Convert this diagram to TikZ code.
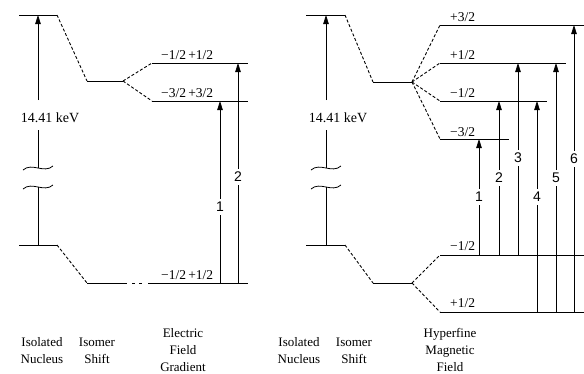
\documentclass[tikz,border=0pt]{standalone}
\usepackage{fontspec}
\setmainfont{Liberation Serif}
\newfontfamily\numfont{Liberation Sans}
\usetikzlibrary{arrows.meta}
\begin{document}
\begin{tikzpicture}[x=1pt,y=-1pt,
 elev/.style={line width=1pt},
 split/.style={line width=0.9pt, dash pattern=on 3pt off 2pt},
 vline/.style={line width=0.8pt},
 trans/.style={line width=0.8pt, -{Triangle[length=9pt,width=5.5pt]}},
 num/.style={fill=white, inner xsep=1pt, inner ysep=3pt, font=\numfont\fontsize{14}{14}\selectfont},
 lvl/.style={font=\fontsize{13.5}{13.5}\selectfont, anchor=base west, inner sep=0pt},
 kev/.style={fill=white, inner xsep=0pt, inner ysep=6pt, font=\fontsize{14}{14}\selectfont},
 captxt/.style={font=\fontsize{13}{17}\selectfont, align=center}]
\useasboundingbox (0,0) rectangle (584,373);

% ---------------- Left panel ----------------
\coordinate (a1) at (19,15);  \coordinate (a2) at (57,15);
\coordinate (b1) at (87,81);  \coordinate (b2) at (123,81);
\coordinate (c1) at (152,63); \coordinate (c2) at (248,63);
\coordinate (d1) at (152,101);\coordinate (d2) at (248,101);
\coordinate (e1) at (19,245); \coordinate (e2) at (57,245);
\coordinate (f1) at (87,283); \coordinate (f2) at (127,283);
\coordinate (f3) at (148,283);\coordinate (f4) at (248,283);

\draw[elev] (a1) -- (a2);
\draw[split] (a2) -- (b1);
\draw[elev] (b1) -- (b2);
\draw[split] (b2) -- (c1);
\draw[split] (b2) -- (d1);
\draw[elev] (c1) -- (c2);
\draw[elev] (d1) -- (d2);
\draw[elev] (e1) -- (e2);
\draw[split] (e2) -- (f1);
\draw[elev] (f1) -- (f2);
\draw[elev] (132,283) -- (134.5,283);
\draw[elev] (139,283) -- (141.5,283);
\draw[elev] (f3) -- (f4);

% isolated nucleus transition
\draw[vline] (38,245) -- (38,187);
\draw[vline] (23,189) .. controls (32,181) and (44,193) .. (53,185);
\draw[vline] (23,170) .. controls (32,162) and (44,174) .. (53,166);
\draw[vline] (38,168) -- (38,130);
\draw[trans] (38,100) -- (a2 -| 38,0);
\node[kev] (kL) at (50,118) {14.41 keV};

\draw[trans] (f4 -| 220,0) -- (d2 -| 220,0);
\node[num] (n1L) at (220,207) {1};
\draw[trans] (f4 -| 238,0) -- (c2 -| 238,0);
\node[num] (n2L) at (238,177) {2};

\node[lvl] (l1) at (161,59) {−1/2\,+1/2};
\node[lvl] (l2) at (161,97) {−3/2\,+3/2};
\node[lvl] (l3) at (161,279) {−1/2\,+1/2};

% ---------------- Right panel ----------------
\coordinate (A1) at (306,15);  \coordinate (A2) at (345,15);
\coordinate (B1) at (373,82);  \coordinate (B2) at (412,82);
\coordinate (P3) at (440,25);  \coordinate (Q3) at (584,25);
\coordinate (P1) at (440,63);  \coordinate (Q1) at (566,63);
\coordinate (M1) at (440,101); \coordinate (N1) at (547,101);
\coordinate (M3) at (440,139); \coordinate (N3) at (509,139);
\coordinate (E1) at (306,245); \coordinate (E2) at (345,245);
\coordinate (F1) at (373,283); \coordinate (F2) at (412,283);
\coordinate (GM) at (440,255); \coordinate (HM) at (584,255);
\coordinate (GP) at (440,312); \coordinate (HP) at (584,312);

\draw[elev] (A1) -- (A2);
\draw[split] (A2) -- (B1);
\draw[elev] (B1) -- (B2);
\foreach \p in {P3,P1,M1,M3} \draw[split] (B2) -- (\p);
\draw[elev] (P3) -- (Q3);
\draw[elev] (P1) -- (Q1);
\draw[elev] (M1) -- (N1);
\draw[elev] (M3) -- (N3);
\draw[elev] (E1) -- (E2);
\draw[split] (E2) -- (F1);
\draw[elev] (F1) -- (F2);
\draw[split] (F2) -- (GM);
\draw[split] (F2) -- (GP);
\draw[elev] (GM) -- (HM);
\draw[elev] (GP) -- (HP);

\draw[vline] (326,245) -- (326,187);
\draw[vline] (311,189) .. controls (320,181) and (332,193) .. (341,185);
\draw[vline] (311,170) .. controls (320,162) and (332,174) .. (341,166);
\draw[vline] (326,168) -- (326,130);
\draw[trans] (326,100) -- (A2 -| 326,0);
\node[kev] (kR) at (338,118) {14.41 keV};

\draw[trans] (GM -| 479,0) -- (M3 -| 479,0);
\node[num] (n1R) at (479,197) {1};
\draw[trans] (GM -| 499,0) -- (M1 -| 499,0);
\node[num] (n2R) at (499,178) {2};
\draw[trans] (GM -| 518,0) -- (P1 -| 518,0);
\node[num] (n3R) at (518,158) {3};
\draw[trans] (GP -| 537,0) -- (M1 -| 537,0);
\node[num] (n4R) at (537,197) {4};
\draw[trans] (GP -| 556,0) -- (P1 -| 556,0);
\node[num] (n5R) at (556,178) {5};
\draw[trans] (GP -| 574,0) -- (P3 -| 574,0);
\node[num] (n6R) at (574,159) {6};

\node[lvl] (r1) at (450,21) {+3/2};
\node[lvl] (r2) at (450,59) {+1/2};
\node[lvl] (r3) at (450,97) {−1/2};
\node[lvl] (r4) at (450,136) {−3/2};
\node[lvl] (r5) at (450,250) {−1/2};
\node[lvl] (r6) at (450,307) {+1/2};

% ---------------- Captions ----------------
\node[captxt] (c1L) at (42,351) {Isolated\\Nucleus};
\node[captxt] (c2L) at (97,351) {Isomer\\Shift};
\node[captxt] (c3L) at (183,350) {Electric\\Field\\Gradient};
\node[captxt] (c1R) at (299,351) {Isolated\\Nucleus};
\node[captxt] (c2R) at (354,351) {Isomer\\Shift};
\node[captxt] (c3R) at (450,350) {Hyperfine\\Magnetic\\Field};
\end{tikzpicture}
\end{document}
